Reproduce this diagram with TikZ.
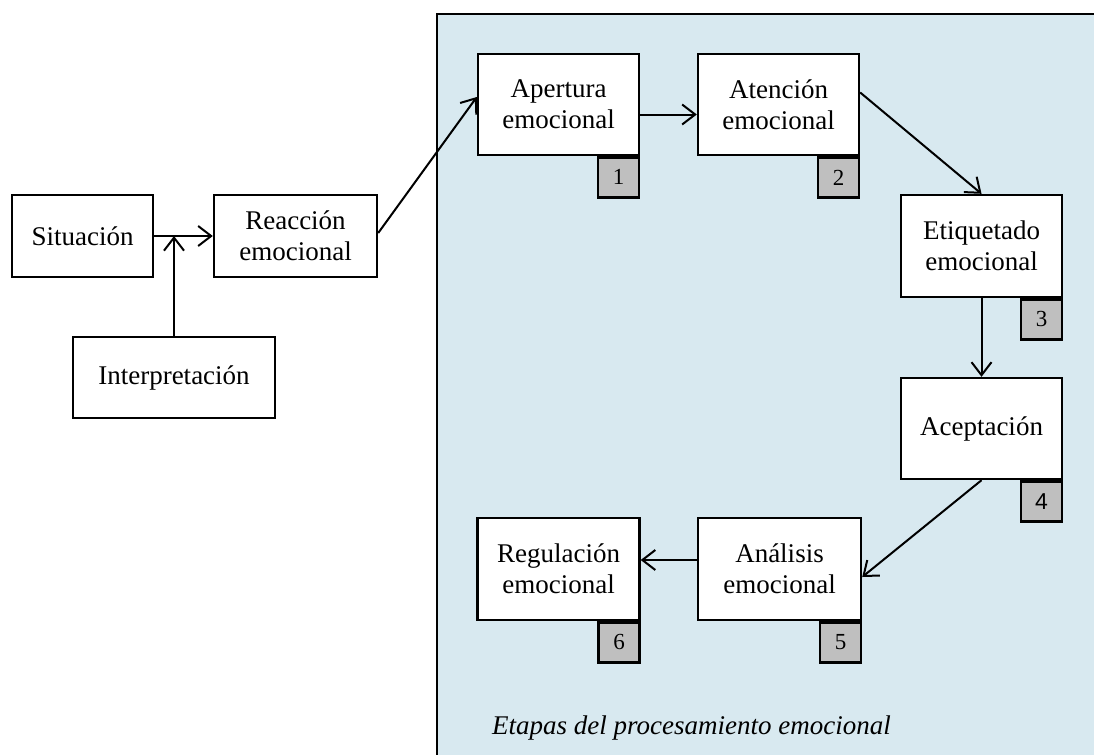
\documentclass[tikz,border=0pt]{standalone}
\usepackage{fontspec}
\setmainfont{Liberation Serif}
\newfontfamily\digitsans{Liberation Sans}
\usetikzlibrary{arrows.meta}

\definecolor{panelblue}{RGB}{216,233,240}
\definecolor{tagfill}{RGB}{191,191,191}

\tikzset{
  stage/.style={draw=black, line width=2.4pt, fill=white, align=center,
    inner sep=0pt, font=\fontsize{27}{31}\selectfont},
  tag/.style={draw=black, line width=2.4pt, fill=tagfill, inner sep=0pt,
    minimum width=41pt, minimum height=40pt, anchor=north east,
    font=\fontsize{23}{24}\selectfont},
  link/.style={line width=2pt, -{Straight Barb[length=13pt,width=20pt,line width=2pt]}},
}

\begin{document}
\begin{tikzpicture}[x=1pt, y=-1pt]
  \useasboundingbox (0,0) rectangle (1094,755);

  % background panel for the processing stages
  \fill[panelblue] (437,14) rectangle (1094,755);
  \draw[line width=2.4pt] (1094,14) -- (437,14) -- (437,755);

  % left part: situation, interpretation, reaction
  \node[stage, minimum width=141pt, minimum height=82pt] (sit) at (82.5,236) {Situación};
  \node[stage, minimum width=163pt, minimum height=82pt] (reac) at (295.5,236) {Reacción\\emocional};
  \node[stage, minimum width=202pt, minimum height=81pt] (interp) at (174,377.5) {Interpretación};

  % stages inside the panel
  \node[stage, minimum width=161pt, minimum height=101pt] (aper) at (558.5,104.5) {Apertura\\emocional};
  \node[stage, minimum width=161pt, minimum height=101pt] (aten) at (778.5,104.5) {Atención\\emocional};
  \node[stage, minimum width=161pt, minimum height=102pt] (etiq) at (981.5,246) {Etiquetado\\emocional};
  \node[stage, minimum width=161pt, minimum height=101pt] (acep) at (981.5,428.5) {Aceptación};
  \node[stage, minimum width=163pt, minimum height=102pt] (anal) at (779.5,569) {Análisis\\emocional};
  \node[stage, minimum width=162pt, minimum height=102pt] (regu) at (558.5,569) {Regulación\\emocional};

  % numbered tags below each stage
  \node[tag] (t1) at (aper.south east) {1};
  \node[tag] (t2) at (aten.south east) {2};
  \node[tag] (t3) at (etiq.south east) {3};
  \node[tag] (t4) at (acep.south east) {\digitsans 4};
  \node[tag] (t5) at (anal.south east) {5};
  \node[tag] (t6) at (regu.south east) {6};

  % connectors
  \coordinate (join) at (interp.north |- sit.east);
  \draw[link] (sit.east) -- (reac.west);
  \draw[link] (interp.north) -- (join);
  \draw[link] ([yshift=3pt]reac.east) -- ([yshift=7.5pt]aper.west);
  \draw[link] ([yshift=-10pt]aper.east) -- ([yshift=-10pt]aten.west);
  \draw[link] ([yshift=12pt]aten.east) -- (etiq.north);
  \draw[link] (etiq.south) -- (acep.north);
  \draw[link] (acep.south) -- ([yshift=-8pt]anal.east);
  \draw[link] ([yshift=9pt]anal.west) -- ([yshift=9pt]regu.east);

  % panel caption
  \node[anchor=base west, inner sep=0pt, font=\itshape\fontsize{27}{31}\selectfont] (caption) at (492,734) {Etapas del procesamiento emocional};
\end{tikzpicture}
\end{document}
